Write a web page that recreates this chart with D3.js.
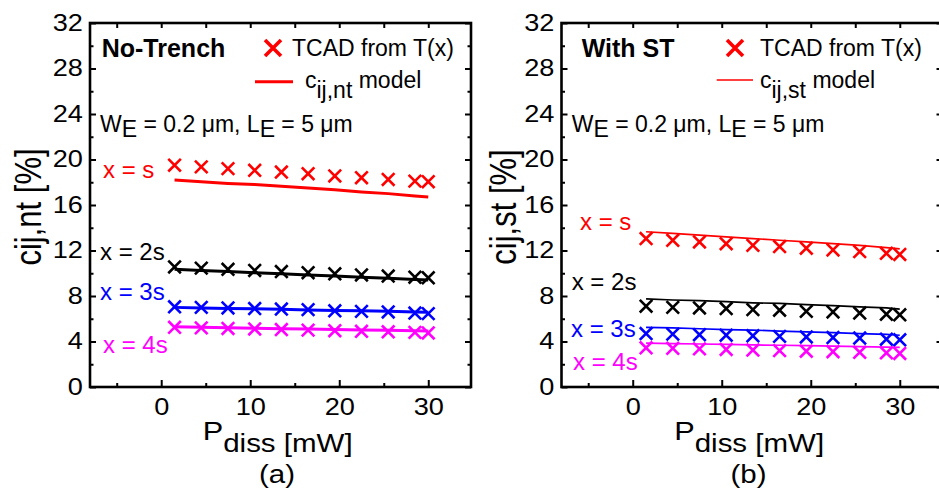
<!DOCTYPE html>
<html>
<head>
<meta charset="utf-8">
<script src="https://cdn.jsdelivr.net/npm/d3@7/dist/d3.min.js"></script>
<style>
  body { margin: 0; background: #fff; }
  svg { display: block; font-family: "Liberation Sans", Arial, Helvetica, sans-serif; }
</style>
</head>
<body>
<svg id="chart" width="939" height="496"></svg>
<script>
// dissipated power [mW] of the simulated points
const pdiss = [1.5, 4.5, 7.5, 10.5, 13.5, 16.5, 19.5, 22.5, 25.5, 28.5, 30];

const seriesNames = ["x = s", "x = 2s", "x = 3s", "x = 4s"];
const seriesColors = ["#ff0000", "#000000", "#0000ff", "#ff00ff"];

// (a) no trench
const ntTcad = [
  [19.5, 19.35, 19.2, 19.05, 18.9, 18.75, 18.55, 18.4, 18.25, 18.1, 18.05],
  [10.55, 10.45, 10.35, 10.25, 10.15, 10.05, 9.95, 9.85, 9.75, 9.65, 9.6],
  [7.05, 7.0, 6.95, 6.9, 6.85, 6.8, 6.7, 6.65, 6.6, 6.5, 6.45],
  [5.25, 5.2, 5.15, 5.1, 5.05, 5.0, 4.95, 4.9, 4.85, 4.8, 4.75]
];
const ntModel = [
  [18.2, 18.05, 17.9, 17.8, 17.65, 17.5, 17.35, 17.15, 17.0, 16.8, 16.7],
  [10.35, 10.25, 10.15, 10.05, 9.95, 9.85, 9.75, 9.65, 9.55, 9.45, 9.4],
  [7.0, 6.95, 6.9, 6.87, 6.83, 6.78, 6.73, 6.7, 6.65, 6.6, 6.58],
  [5.3, 5.25, 5.2, 5.17, 5.13, 5.1, 5.05, 5.02, 4.98, 4.95, 4.93]
];

// (b) with shallow trench
const stTcad = [
  [13.05, 12.9, 12.75, 12.6, 12.45, 12.35, 12.2, 12.05, 11.9, 11.75, 11.65],
  [7.1, 7.0, 6.95, 6.9, 6.8, 6.75, 6.65, 6.6, 6.5, 6.4, 6.35],
  [4.7, 4.65, 4.6, 4.55, 4.5, 4.45, 4.4, 4.35, 4.3, 4.2, 4.15],
  [3.45, 3.4, 3.35, 3.3, 3.25, 3.2, 3.15, 3.1, 3.05, 3.0, 2.95]
];
const stModel = [
  [13.65, 13.5, 13.35, 13.2, 13.05, 12.9, 12.75, 12.6, 12.45, 12.25, 12.15],
  [7.75, 7.65, 7.6, 7.5, 7.4, 7.35, 7.25, 7.15, 7.05, 6.95, 6.85],
  [5.25, 5.2, 5.12, 5.05, 5.0, 4.92, 4.85, 4.78, 4.7, 4.62, 4.55],
  [3.85, 3.82, 3.78, 3.75, 3.7, 3.67, 3.63, 3.6, 3.55, 3.5, 3.48]
];

const xTicksMajor = [0, 10, 20, 30];
const xTicksMinor = [-5, 5, 15, 25];
const xTicksTop = [-5, 0, 5, 10, 15, 20, 25, 30];
const yTicksMajor = [0, 4, 8, 12, 16, 20, 24, 28, 32];
const yTicksMinor = [2, 6, 10, 14, 18, 22, 26, 30];

const panels = [
  {
    left: 90, tcad: ntTcad, model: ntModel, lineWidth: 3,
    title: "No-Trench", titleX: 101.7, sub: "ij,nt", yTitle: "cij,nt [%]", yTitleX: 41, letter: "(a)",
    legX: 273, legLine: [255, 293, 81.7], legTextX: 292, modelX: 305, wX: 100,
    labels: [[103, 178.3], [100, 260], [100, 300], [103, 353.3]]
  },
  {
    left: 561.5, tcad: stTcad, model: stModel, lineWidth: 1.7,
    title: "With ST", titleX: 581.7, sub: "ij,st", yTitle: "cij,st [%]", yTitleX: 516, letter: "(b)",
    legX: 735, legLine: [716.7, 753, 80], legTextX: 760, modelX: 760, wX: 571.7,
    labels: [[580, 230], [571.7, 290], [571, 336.7], [573, 370]]
  }
];

const svg = d3.select("#chart");
const plotTop = 23, plotBottom = 387, plotW = 381;
const stretch = 1.18;

function stretchedText(parent, x, y, size) {
  return parent.append("g")
    .attr("transform", `translate(${x},${y}) scale(${stretch},1)`)
    .append("text")
    .attr("font-size", size)
    .attr("fill", "#000");
}

function xMark(g, cx, cy, r, color, width) {
  g.append("path")
    .attr("d", `M${cx - r},${cy - r}L${cx + r},${cy + r}M${cx - r},${cy + r}L${cx + r},${cy - r}`)
    .attr("stroke", color)
    .attr("stroke-width", width)
    .attr("fill", "none");
}

panels.forEach(p => {
  const x = d3.scaleLinear().domain([-8, 34.8]).range([p.left, p.left + plotW]);
  const y = d3.scaleLinear().domain([0, 32]).range([plotBottom, plotTop]);
  const g = svg.append("g");

  // model lines
  const line = d3.line().x((d, i) => x(pdiss[i])).y(d => y(d));
  p.model.forEach((vals, k) => {
    g.append("path")
      .attr("d", line(vals))
      .attr("fill", "none")
      .attr("stroke", seriesColors[k])
      .attr("stroke-width", p.lineWidth);
  });

  // TCAD points
  p.tcad.forEach((vals, k) => {
    vals.forEach((v, i) => xMark(g, x(pdiss[i]), y(v), 6.3, seriesColors[k], 2.6));
  });

  // series labels
  p.labels.forEach((pos, k) => {
    g.append("text")
      .attr("x", pos[0]).attr("y", pos[1])
      .attr("font-size", 24)
      .attr("fill", seriesColors[k])
      .text(seriesNames[k]);
  });

  // axes, ticks inward
  const tick = (axis, scale, vals, size, pad) => axis(scale).tickValues(vals).tickSize(-size).tickPadding(pad);
  const bottomG = g.append("g").attr("transform", `translate(0,${plotBottom})`)
    .call(tick(d3.axisBottom, x, xTicksMajor, 7, 12).tickFormat(d3.format("d")));
  g.append("g").attr("transform", `translate(0,${plotBottom})`)
    .call(tick(d3.axisBottom, x, xTicksMinor, 4, 0).tickFormat(""));
  g.append("g").attr("transform", `translate(0,${plotTop})`)
    .call(tick(d3.axisTop, x, xTicksTop, 5, 0).tickFormat(""));
  const leftG = g.append("g").attr("transform", `translate(${p.left},0)`)
    .call(tick(d3.axisLeft, y, yTicksMajor, 6, 6).tickFormat(d3.format("d")));
  g.append("g").attr("transform", `translate(${p.left},0)`)
    .call(tick(d3.axisLeft, y, yTicksMinor, 3.5, 0).tickFormat(""));
  g.append("g").attr("transform", `translate(${p.left + plotW},0)`)
    .call(tick(d3.axisRight, y, yTicksMajor, 6, 0).tickFormat(""));
  g.append("g").attr("transform", `translate(${p.left + plotW},0)`)
    .call(tick(d3.axisRight, y, yTicksMinor, 3.5, 0).tickFormat(""));

  g.selectAll(".domain").remove();
  g.selectAll(".tick line").attr("stroke", "#000").attr("stroke-width", 2);
  [bottomG, leftG].forEach(a => a.selectAll("text")
    .attr("font-size", 23)
    .attr("fill", "#000")
    .attr("transform", `scale(${stretch},1)`));
  g.selectAll("g").attr("font-family", null);

  g.append("rect")
    .attr("x", p.left).attr("y", plotTop)
    .attr("width", plotW).attr("height", plotBottom - plotTop)
    .attr("fill", "none").attr("stroke", "#000").attr("stroke-width", 2.6);

  // legend
  g.append("text")
    .attr("x", p.titleX).attr("y", 56.7)
    .attr("font-size", 25).attr("font-weight", "bold")
    .text(p.title);
  xMark(g, p.legX, 48, 8, seriesColors[0], 3.6);
  g.append("text")
    .attr("x", p.legTextX).attr("y", 56)
    .attr("font-size", 23)
    .text("TCAD from T(x)");
  g.append("line")
    .attr("x1", p.legLine[0]).attr("x2", p.legLine[1])
    .attr("y1", p.legLine[2]).attr("y2", p.legLine[2])
    .attr("stroke", seriesColors[0]).attr("stroke-width", p.lineWidth);
  const m = g.append("text").attr("x", p.modelX).attr("y", 87.5).attr("font-size", 23);
  m.append("tspan").text("c");
  m.append("tspan").attr("dy", 10).text(p.sub);
  m.append("tspan").attr("dy", -10).text(" model");

  const w = g.append("text").attr("x", p.wX).attr("y", 132).attr("font-size", 23);
  w.append("tspan").text("W");
  w.append("tspan").attr("dy", 5).text("E");
  w.append("tspan").attr("dy", -5).text(" = 0.2 \u03bcm, L");
  w.append("tspan").attr("dy", 5).text("E");
  w.append("tspan").attr("dy", -5).text(" = 5 \u03bcm");

  // axis titles
  const xt = stretchedText(g, x(0) + 41.5, 440, 26);
  xt.append("tspan").text("P");
  xt.append("tspan").attr("dy", 12).attr("font-size", 25).text("diss [mW]");

  g.append("g")
    .attr("transform", `translate(${p.yTitleX},207) scale(${stretch},1) rotate(-90)`)
    .append("text")
    .attr("text-anchor", "middle")
    .attr("font-size", 31)
    .text(p.yTitle);

  stretchedText(g, x(13), 483, 25)
    .attr("text-anchor", "middle")
    .text(p.letter);
});
</script>
</body>
</html>
